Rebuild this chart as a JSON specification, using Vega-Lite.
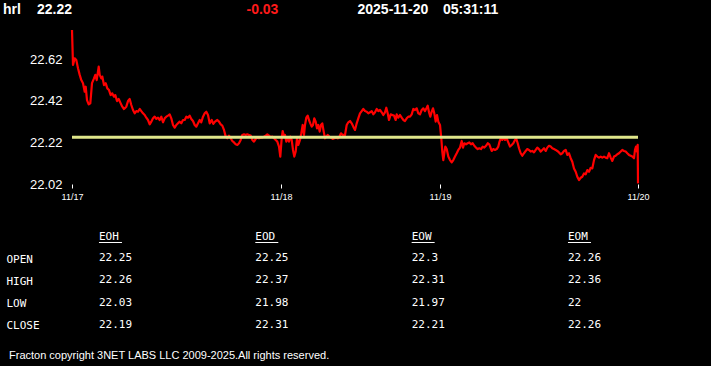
{
  "$schema": "https://vega.github.io/schema/vega-lite/v6.json",
  "background": "black",
  "padding": {"left": 0, "top": 0, "right": 0, "bottom": 5},
  "spacing": 0,
  "bounds": "flush",
  "config": {"view": {"stroke": null}, "font": "Liberation Sans"},
  "title": {"text": "Fracton copyright 3NET LABS LLC 2009-2025.All rights reserved.", "orient": "bottom", "anchor": "start", "font": "Liberation Sans", "fontSize": 11, "fontWeight": "normal", "color": "white", "offset": 16, "dx": 9},
  "vconcat": [
    {
      "width": 711,
      "height": 25,
      "data": {"values": [{"ticker": "hrl", "last": "22.22", "chg": "-0.03", "date": "2025-11-20", "time": "05:31:11"}]},
      "layer": [
        {"mark": {"type": "text", "x": 3, "y": 14, "align": "left", "baseline": "alphabetic", "font": "Liberation Sans", "fontSize": 14, "fontWeight": "bold", "color": "white"}, "encoding": {"text": {"field": "ticker"}}},
        {"mark": {"type": "text", "x": 37, "y": 14, "align": "left", "baseline": "alphabetic", "font": "Liberation Sans", "fontSize": 14, "fontWeight": "bold", "color": "white"}, "encoding": {"text": {"field": "last"}}},
        {"mark": {"type": "text", "x": 246.5, "y": 14, "align": "left", "baseline": "alphabetic", "font": "Liberation Sans", "fontSize": 14, "fontWeight": "bold", "color": "#ff1a1a"}, "encoding": {"text": {"field": "chg"}}},
        {"mark": {"type": "text", "x": 357.5, "y": 14, "align": "left", "baseline": "alphabetic", "font": "Liberation Sans", "fontSize": 14, "fontWeight": "bold", "color": "white"}, "encoding": {"text": {"field": "date"}}},
        {"mark": {"type": "text", "x": 443, "y": 14, "align": "left", "baseline": "alphabetic", "font": "Liberation Sans", "fontSize": 14, "fontWeight": "bold", "color": "white"}, "encoding": {"text": {"field": "time"}}}
      ]
    },
    {
      "width": 711,
      "height": 159,
      "layer": [
        {
          "data": {"values": [
{"t":0,"p":22.761},{"t":1,"p":22.593},{"t":2.7,"p":22.625},{"t":4.3,"p":22.617},{"t":6,"p":22.577},{"t":7.7,"p":22.545},{"t":9.3,"p":22.52},{"t":11,"p":22.505},{"t":12.7,"p":22.464},{"t":13.7,"p":22.488},{"t":15,"p":22.424},{"t":16.7,"p":22.403},{"t":18.3,"p":22.408},{"t":19.3,"p":22.464},{"t":20,"p":22.505},{"t":22,"p":22.528},{"t":23.3,"p":22.545},{"t":24.7,"p":22.52},{"t":26.7,"p":22.585},{"t":27.7,"p":22.545},{"t":29.3,"p":22.528},{"t":30.3,"p":22.537},{"t":32,"p":22.496},{"t":33.7,"p":22.505},{"t":35.3,"p":22.48},{"t":37,"p":22.472},{"t":38.7,"p":22.448},{"t":40.3,"p":22.456},{"t":42,"p":22.44},{"t":43.3,"p":22.448},{"t":45,"p":22.419},{"t":46.7,"p":22.429},{"t":48.7,"p":22.408},{"t":50.3,"p":22.392},{"t":52,"p":22.381},{"t":54.3,"p":22.392},{"t":56,"p":22.419},{"t":57.7,"p":22.429},{"t":59.3,"p":22.4},{"t":61,"p":22.376},{"t":62.7,"p":22.36},{"t":64.3,"p":22.371},{"t":66,"p":22.368},{"t":67.7,"p":22.381},{"t":69.3,"p":22.371},{"t":71,"p":22.36},{"t":72.7,"p":22.352},{"t":74.3,"p":22.339},{"t":76,"p":22.328},{"t":77.7,"p":22.307},{"t":79.3,"p":22.32},{"t":81,"p":22.336},{"t":82.7,"p":22.344},{"t":84.3,"p":22.333},{"t":86,"p":22.339},{"t":87.7,"p":22.328},{"t":89.3,"p":22.344},{"t":91,"p":22.317},{"t":92.7,"p":22.336},{"t":94.3,"p":22.344},{"t":96,"p":22.349},{"t":97.7,"p":22.355},{"t":99.3,"p":22.336},{"t":101,"p":22.304},{"t":102.7,"p":22.291},{"t":104.3,"p":22.304},{"t":106,"p":22.312},{"t":107.7,"p":22.32},{"t":109.3,"p":22.312},{"t":111,"p":22.328},{"t":112.7,"p":22.328},{"t":114.3,"p":22.344},{"t":116,"p":22.339},{"t":117.7,"p":22.349},{"t":119.3,"p":22.333},{"t":121,"p":22.323},{"t":122.7,"p":22.304},{"t":124.3,"p":22.296},{"t":126,"p":22.312},{"t":127.7,"p":22.328},{"t":129.3,"p":22.317},{"t":131,"p":22.344},{"t":132.7,"p":22.36},{"t":134.3,"p":22.368},{"t":136,"p":22.352},
{"t":137.7,"p":22.312},{"t":139.7,"p":22.328},{"t":141.3,"p":22.309},{"t":143,"p":22.32},{"t":145.3,"p":22.328},{"t":147,"p":22.32},{"t":148.7,"p":22.307},{"t":150.3,"p":22.301},{"t":152,"p":22.28},{"t":153.7,"p":22.248},{"t":155.3,"p":22.24},{"t":157,"p":22.253},{"t":158.7,"p":22.24},{"t":160.3,"p":22.227},{"t":162,"p":22.22},{"t":163.7,"p":22.211},{"t":165.3,"p":22.208},{"t":167,"p":22.216},{"t":168.7,"p":22.232},{"t":170.3,"p":22.256},{"t":172,"p":22.259},{"t":173.7,"p":22.256},{"t":175.3,"p":22.259},{"t":177,"p":22.256},{"t":178.7,"p":22.253},{"t":180.3,"p":22.232},{"t":182,"p":22.224},{"t":183.7,"p":22.237},{"t":185.3,"p":22.243},{"t":187,"p":22.24},{"t":188.7,"p":22.243},{"t":190.3,"p":22.243},{"t":192,"p":22.248},{"t":193.7,"p":22.253},{"t":195.3,"p":22.259},{"t":197,"p":22.253},{"t":198.7,"p":22.245},{"t":200.3,"p":22.248},{"t":202,"p":22.24},{"t":203.7,"p":22.232},{"t":205.3,"p":22.224},{"t":207,"p":22.2},{"t":208.3,"p":22.152},{"t":209.7,"p":22.24},{"t":210.7,"p":22.275},{"t":212,"p":22.248},{"t":213,"p":22.256},{"t":214.3,"p":22.224},{"t":215.7,"p":22.24},{"t":217,"p":22.224},{"t":218.3,"p":22.248},{"t":219.7,"p":22.232},{"t":221,"p":22.184},{"t":222.3,"p":22.152},{"t":223.7,"p":22.176},{"t":225,"p":22.24},{"t":226.3,"p":22.208},{"t":228,"p":22.232},{"t":229.3,"p":22.264},{"t":230.7,"p":22.304},{"t":232,"p":22.256},{"t":233,"p":22.304},{"t":234.3,"p":22.339},{"t":235.7,"p":22.349},{"t":237,"p":22.328},{"t":238.3,"p":22.312},{"t":239.7,"p":22.296},{"t":241,"p":22.304},{"t":242.3,"p":22.336},{"t":243.7,"p":22.32},{"t":245,"p":22.288},{"t":246.3,"p":22.304},{"t":247.7,"p":22.272},{"t":249,"p":22.304},{"t":250.3,"p":22.312},{"t":251.7,"p":22.272},{"t":253,"p":22.24},{"t":254.3,"p":22.248},{"t":255.7,"p":22.256},{"t":257.3,"p":22.248},{"t":259,"p":22.243},{"t":260.7,"p":22.237},{"t":262.3,"p":22.24},{"t":264,"p":22.243},{"t":265.7,"p":22.24},{"t":267.3,"p":22.246},{"t":269,"p":22.264},{"t":270.7,"p":22.256},
{"t":273,"p":22.256},{"t":274.7,"p":22.304},{"t":276.3,"p":22.317},{"t":278,"p":22.323},{"t":279.7,"p":22.312},{"t":281.3,"p":22.296},{"t":283,"p":22.28},{"t":284.7,"p":22.312},{"t":286.3,"p":22.336},{"t":288,"p":22.36},{"t":289.7,"p":22.371},{"t":291.3,"p":22.381},{"t":293,"p":22.371},{"t":294.7,"p":22.368},{"t":296.3,"p":22.36},{"t":298,"p":22.365},{"t":299.7,"p":22.371},{"t":301.3,"p":22.355},{"t":303,"p":22.365},{"t":304.7,"p":22.381},{"t":306.3,"p":22.371},{"t":308,"p":22.376},{"t":309.7,"p":22.365},{"t":311.3,"p":22.352},{"t":313,"p":22.365},{"t":314.3,"p":22.387},{"t":315.7,"p":22.36},{"t":317,"p":22.328},{"t":318.7,"p":22.355},{"t":320.3,"p":22.352},{"t":322,"p":22.349},{"t":323.7,"p":22.328},{"t":324.7,"p":22.355},{"t":326.3,"p":22.339},{"t":328,"p":22.352},{"t":329.7,"p":22.339},{"t":331.3,"p":22.328},{"t":333,"p":22.323},{"t":334.7,"p":22.336},{"t":336.3,"p":22.344},{"t":338,"p":22.344},{"t":339.7,"p":22.355},{"t":341.3,"p":22.381},{"t":343,"p":22.376},{"t":344.7,"p":22.384},{"t":346.3,"p":22.36},{"t":348,"p":22.355},{"t":349.7,"p":22.376},{"t":351.3,"p":22.384},{"t":353,"p":22.371},{"t":354.7,"p":22.387},{"t":355.7,"p":22.397},{"t":357,"p":22.365},{"t":358.3,"p":22.344},{"t":359.7,"p":22.368},{"t":361,"p":22.384},{"t":362.3,"p":22.36},{"t":363.7,"p":22.32},{"t":365,"p":22.352},{"t":366.3,"p":22.32},{"t":368,"p":22.304},{"t":369.3,"p":22.24},{"t":370.3,"p":22.176},{"t":371.3,"p":22.135},{"t":372.3,"p":22.168},{"t":373.3,"p":22.2},{"t":374.7,"p":22.188},{"t":376.3,"p":22.152},{"t":378,"p":22.135},{"t":379.7,"p":22.124},{"t":381.3,"p":22.135},{"t":383,"p":22.152},{"t":384.7,"p":22.168},{"t":386.3,"p":22.184},{"t":388,"p":22.195},{"t":389.7,"p":22.227},{"t":391,"p":22.195},{"t":392.3,"p":22.216},{"t":394,"p":22.211},{"t":395.7,"p":22.216},{"t":397.3,"p":22.22},{"t":399,"p":22.211},{"t":400.7,"p":22.216},{"t":402.3,"p":22.204},{"t":404,"p":22.195},{"t":405.7,"p":22.188},{"t":407.3,"p":22.192},{"t":409,"p":22.188},{"t":410.7,"p":22.2},{"t":412.3,"p":22.195},{"t":414,"p":22.204},{"t":415.7,"p":22.216},{"t":417.3,"p":22.211},
{"t":419.7,"p":22.179},{"t":421.3,"p":22.188},{"t":423,"p":22.184},{"t":424.7,"p":22.188},{"t":426.3,"p":22.2},{"t":427.3,"p":22.22},{"t":428.7,"p":22.24},{"t":430.3,"p":22.232},{"t":431.7,"p":22.243},{"t":433,"p":22.232},{"t":434.7,"p":22.24},{"t":436.3,"p":22.22},{"t":438,"p":22.2},{"t":439.7,"p":22.208},{"t":441.3,"p":22.216},{"t":443,"p":22.232},{"t":444.3,"p":22.237},{"t":445.7,"p":22.216},{"t":447,"p":22.192},{"t":448.7,"p":22.168},{"t":450.3,"p":22.156},{"t":452,"p":22.168},{"t":453.7,"p":22.179},{"t":455.3,"p":22.188},{"t":457,"p":22.184},{"t":458.7,"p":22.176},{"t":460.3,"p":22.179},{"t":462,"p":22.172},{"t":463.7,"p":22.184},{"t":465.3,"p":22.195},{"t":467,"p":22.188},{"t":468.7,"p":22.176},{"t":470.3,"p":22.184},{"t":472,"p":22.192},{"t":473.7,"p":22.179},{"t":475.3,"p":22.195},{"t":477,"p":22.204},{"t":478.7,"p":22.2},{"t":480.3,"p":22.192},{"t":482,"p":22.188},{"t":483.7,"p":22.184},{"t":485.3,"p":22.179},{"t":487,"p":22.172},{"t":488.7,"p":22.163},{"t":490.3,"p":22.168},{"t":492,"p":22.179},{"t":493.7,"p":22.184},{"t":495.3,"p":22.16},{"t":497,"p":22.168},{"t":498.7,"p":22.144},{"t":500.3,"p":22.127},{"t":502,"p":22.095},{"t":503.7,"p":22.079},{"t":505.3,"p":22.055},{"t":507,"p":22.039},{"t":508.7,"p":22.05},{"t":510.3,"p":22.055},{"t":512,"p":22.071},{"t":513.7,"p":22.067},{"t":515.3,"p":22.087},{"t":517,"p":22.079},{"t":518.7,"p":22.098},{"t":520.3,"p":22.095},{"t":522,"p":22.135},{"t":523.7,"p":22.16},{"t":525.3,"p":22.152},{"t":527,"p":22.147},{"t":528.7,"p":22.152},{"t":530.3,"p":22.147},{"t":532,"p":22.152},{"t":533.7,"p":22.147},{"t":535.3,"p":22.144},{"t":537,"p":22.168},{"t":538.7,"p":22.147},{"t":540.3,"p":22.131},{"t":542,"p":22.152},{"t":543.7,"p":22.156},{"t":545.3,"p":22.163},{"t":547,"p":22.168},{"t":548.7,"p":22.176},{"t":550.3,"p":22.184},{"t":552,"p":22.179},{"t":553.7,"p":22.176},{"t":555.3,"p":22.168},{"t":557,"p":22.16},{"t":558.7,"p":22.156},{"t":560.3,"p":22.152},{"t":562,"p":22.144},{"t":563,"p":22.184},{"t":564,"p":22.2},{"t":565,"p":22.176},{"t":565.7,"p":22.208},{"t":566,"p":22.023}
          ]},
          "mark": {"type": "line", "color": "#ff0000", "strokeWidth": 2.2, "strokeJoin": "round"},
          "encoding": {
            "x": {"field": "t", "type": "quantitative", "scale": {"domain": [-72, 639], "nice": false, "zero": false},
                  "axis": {"values": [0, 209, 368, 566], "labelExpr": "datum.value == 0 ? '11/17' : datum.value == 209 ? '11/18' : datum.value == 368 ? '11/19' : '11/20'", "title": null, "domain": false, "grid": false, "ticks": true, "tickSize": 4, "tickColor": "white", "tickWidth": 1, "labelColor": "white", "labelFontSize": 9, "labelFont": "Liberation Sans", "labelPadding": 4, "labelFlush": false}},
            "y": {"field": "p", "type": "quantitative", "scale": {"domain": [22.02, 22.785], "nice": false, "zero": false},
                  "axis": {"values": [22.02, 22.22, 22.42, 22.62], "format": ".2f", "title": null, "domain": false, "grid": false, "ticks": false, "tickSize": 0, "offset": -72, "labelPadding": 10, "labelColor": "white", "labelFontSize": 13, "labelFont": "Liberation Sans"}}
          }
        },
        {
          "data": {"values": [{"start": 0, "end": 566, "level": 22.245}]},
          "mark": {"type": "rule", "color": "#dfe68a", "strokeWidth": 3},
          "encoding": {
            "x": {"field": "start", "type": "quantitative"},
            "x2": {"field": "end"},
            "y": {"field": "level", "type": "quantitative"}
          }
        }
      ]
    },
    {
      "width": 711,
      "height": 150,
      "layer": [
        {
          "data": {"values": [
            {"row": "OPEN", "col": "EOH", "v": "22.25"}, {"row": "OPEN", "col": "EOD", "v": "22.25"}, {"row": "OPEN", "col": "EOW", "v": "22.3"}, {"row": "OPEN", "col": "EOM", "v": "22.26"},
            {"row": "HIGH", "col": "EOH", "v": "22.26"}, {"row": "HIGH", "col": "EOD", "v": "22.37"}, {"row": "HIGH", "col": "EOW", "v": "22.31"}, {"row": "HIGH", "col": "EOM", "v": "22.36"},
            {"row": "LOW", "col": "EOH", "v": "22.03"}, {"row": "LOW", "col": "EOD", "v": "21.98"}, {"row": "LOW", "col": "EOW", "v": "21.97"}, {"row": "LOW", "col": "EOM", "v": "22"},
            {"row": "CLOSE", "col": "EOH", "v": "22.19"}, {"row": "CLOSE", "col": "EOD", "v": "22.31"}, {"row": "CLOSE", "col": "EOW", "v": "22.21"}, {"row": "CLOSE", "col": "EOM", "v": "22.26"}
          ]},
          "mark": {"type": "text", "align": "left", "baseline": "middle", "font": "DejaVu Sans Mono", "fontSize": 11, "color": "white"},
          "encoding": {
            "x": {"field": "col", "type": "nominal", "scale": {"type": "point", "domain": ["EOH", "EOD", "EOW", "EOM"], "padding": 0.774, "align": 0.409}, "axis": null},
            "y": {"field": "row", "type": "nominal", "scale": {"type": "point", "domain": ["gap", "hdr", "OPEN", "HIGH", "LOW", "CLOSE"], "padding": 0.909, "align": 0.7625},
                  "axis": {"orient": "left", "offset": -6, "title": null, "domain": false, "ticks": false, "tickSize": 0, "grid": false, "labelPadding": 0, "labelAlign": "left", "labelFont": "DejaVu Sans Mono", "labelFontSize": 11, "labelColor": "white", "labelOffset": 1, "labelExpr": "datum.value == 'hdr' || datum.value == 'gap' ? '' : datum.value"}},
            "text": {"field": "v"}
          }
        },
        {
          "data": {"values": [{"col": "EOH"}, {"col": "EOD"}, {"col": "EOW"}, {"col": "EOM"}]},
          "layer": [
            {
              "mark": {"type": "text", "align": "left", "baseline": "middle", "font": "DejaVu Sans Mono", "fontSize": 11, "color": "white", "dy": 1},
              "encoding": {
                "x": {"field": "col", "type": "nominal"},
                "y": {"datum": "hdr", "type": "nominal"},
                "text": {"field": "col"}
              }
            },
            {
              "mark": {"type": "rule", "color": "white", "strokeWidth": 1, "yOffset": 6, "y2Offset": 6, "x2Offset": 23},
              "encoding": {
                "x": {"field": "col", "type": "nominal"},
                "x2": {"field": "col"},
                "y": {"datum": "hdr", "type": "nominal"}
              }
            }
          ]
        }
      ]
    }
  ]
}
